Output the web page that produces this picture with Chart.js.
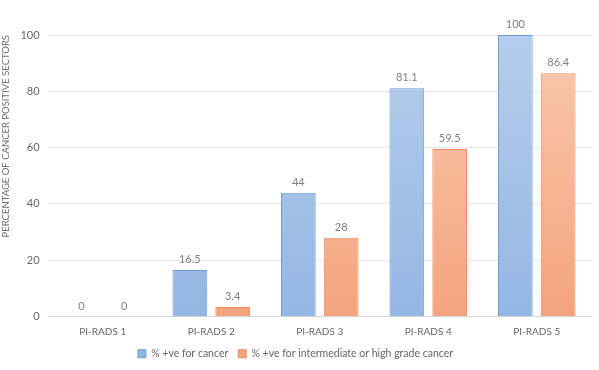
<!DOCTYPE html>
<html>
<head>
<meta charset="utf-8">
<script src="https://cdn.jsdelivr.net/npm/chart.js@4"></script>
<style>
  html, body { margin: 0; padding: 0; background: #fff; }
  #wrap { width: 599px; height: 370px; }
</style>
</head>
<body>
<div id="wrap"><canvas id="chart"></canvas></div>
<script>
var categories = ["PI-RADS 1", "PI-RADS 2", "PI-RADS 3", "PI-RADS 4", "PI-RADS 5"];
var cancerPct = [0, 16.5, 44, 81.1, 100];
var highGradePct = [0, 3.4, 28, 59.5, 86.4];
var seriesNames = ["% +ve for cancer", "% +ve for intermediate or high grade cancer"];

var FONT = "Lato, 'Open Sans', sans-serif";

function areaGradient(ctx, top, bottom) {
  var area = ctx.chart.chartArea;
  if (!area) return bottom;
  var g = ctx.chart.ctx.createLinearGradient(0, area.top, 0, area.bottom);
  g.addColorStop(0, top);
  g.addColorStop(1, bottom);
  return g;
}

// value labels above each bar
var barLabels = {
  id: "barLabels",
  afterDatasetsDraw: function (chart) {
    var c = chart.ctx;
    c.save();
    c.font = "11px " + FONT;
    c.fillStyle = "#808080";
    c.textAlign = "center";
    c.textBaseline = "bottom";
    chart.data.datasets.forEach(function (ds, i) {
      chart.getDatasetMeta(i).data.forEach(function (bar, j) {
        c.fillText(String(ds.data[j]), bar.x, bar.y - 5);
      });
    });
    c.restore();
  }
};

new Chart(document.getElementById("chart"), {
  type: "bar",
  data: {
    labels: categories,
    datasets: [
      {
        label: seriesNames[0],
        data: cancerPct,
        backgroundColor: function (ctx) { return areaGradient(ctx, "#b6cdeb", "#93b7e3"); },
        borderColor: "#6f9bd4",
        borderWidth: 1,
        categoryPercentage: 0.79,
        barPercentage: 0.81
      },
      {
        label: seriesNames[1],
        data: highGradePct,
        backgroundColor: function (ctx) { return areaGradient(ctx, "#f9c9b1", "#f4a47c"); },
        borderColor: "#ed8c5c",
        borderWidth: 1,
        categoryPercentage: 0.79,
        barPercentage: 0.81
      }
    ]
  },
  options: {
    responsive: true,
    maintainAspectRatio: false,
    animation: false,
    layout: { padding: { top: 35, right: 8, left: 0, bottom: 1 } },
    plugins: {
      legend: {
        position: "bottom",
        labels: {
          boxWidth: 8,
          boxHeight: 8,
          padding: 10,
          color: "#666",
          font: { family: FONT, size: 10.5 }
        }
      },
      tooltip: { enabled: false }
    },
    scales: {
      x: {
        grid: { display: false },
        border: { color: "#d9d9d9" },
        ticks: { color: "#666", padding: 1, font: { family: FONT, size: 10 } }
      },
      y: {
        min: 0,
        max: 100,
        ticks: { stepSize: 20, color: "#666", padding: 9, font: { family: FONT, size: 11 } },
        grid: { color: "#e6e6e6", drawTicks: false },
        border: { display: false },
        title: {
          display: true,
          text: "PERCENTAGE OF CANCER POSITIVE SECTORS",
          align: "end",
          color: "#707070",
          padding: 0,
          font: { family: FONT, size: 9.5, lineHeight: 1.2 }
        }
      }
    }
  },
  plugins: [barLabels]
});
</script>
</body>
</html>
